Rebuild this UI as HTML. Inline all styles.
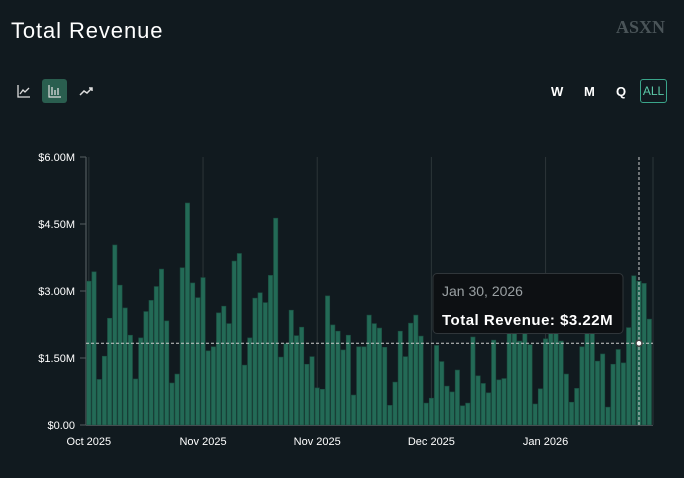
<!DOCTYPE html>
<html><head><meta charset="utf-8"><style>
body{margin:0;width:684px;height:478px;background:#111a1f;overflow:hidden;font-family:"Liberation Sans",sans-serif;color:#fff;position:relative}
.abs{position:absolute}
.btn{position:absolute;font-size:13px;font-weight:bold;color:#fff}
</style></head><body>
<div class="abs" style="left:11px;top:18px;font-size:22px;letter-spacing:0.9px">Total Revenue</div>
<div class="abs" style="left:616px;top:17px;font-family:'Liberation Serif',serif;font-size:18px;color:#4a5458;font-weight:bold">ASXN</div>
<svg class="abs" style="left:16px;top:83px" width="16" height="16"><path d="M2 2V14H14" stroke="#ddd" fill="none" stroke-width="1.3"/><path d="M4 11L7 7L9 9L13 5" stroke="#ddd" fill="none" stroke-width="1.3"/></svg>
<div class="abs" style="left:42px;top:79px;width:25px;height:24px;background:#2a5e4f;border-radius:3px"><svg width="25" height="24"><path d="M7 6V18H19" stroke="#ddd" fill="none" stroke-width="1.2"/><path d="M10 16V8M13 16V11M16 16V9" stroke="#ddd" stroke-width="1.3"/></svg></div>
<svg class="abs" style="left:79px;top:84px" width="16" height="14"><path d="M1 11L5 7L8 9L13 4M10 4H13V7" stroke="#ddd" fill="none" stroke-width="1.5"/></svg>
<div class="btn" style="left:551px;top:84px">W</div>
<div class="btn" style="left:584px;top:84px">M</div>
<div class="btn" style="left:616px;top:84px">Q</div>
<div class="btn" style="left:640px;top:79px;width:25px;height:22px;border:1px solid #3aa58a;border-radius:3px;color:#5cc9a8;font-weight:normal;font-size:12px;line-height:22px;text-align:center">ALL</div>
<svg id="chart" class="abs" style="left:0;top:0" width="684" height="478"></svg>
<script>
const values=[3.22,3.43,1.02,1.54,2.39,4.03,3.13,2.62,2.01,1.03,1.95,2.54,2.79,3.10,3.49,2.33,0.94,1.14,3.52,4.97,3.18,2.85,3.30,1.66,1.75,2.51,2.66,2.27,3.67,3.84,1.34,1.95,2.84,2.96,2.74,3.35,4.63,1.52,1.82,2.57,2.00,2.19,1.36,1.53,0.83,0.80,2.89,2.24,2.10,1.68,2.01,0.67,1.75,1.75,2.46,2.27,2.17,1.74,0.44,0.96,2.10,1.53,2.28,2.46,1.99,0.49,0.60,1.78,1.42,0.87,0.74,1.23,0.43,0.49,1.97,1.10,0.93,0.72,1.90,1.01,1.04,2.20,2.30,1.88,2.20,1.80,0.47,0.81,1.93,2.30,2.50,1.88,1.14,0.51,0.82,1.75,2.30,2.40,1.43,1.59,0.40,1.36,1.69,1.39,2.18,3.34,3.22,3.17,2.37];
const yTicks=[0,1.5,3,4.5,6];
const yTickLabels=["$0.00","$1.50M","$3.00M","$4.50M","$6.00M"];
const xTickIndex=[0,22,44,66,88];
const xTickLabels=["Oct 2025","Nov 2025","Nov 2025","Dec 2025","Jan 2026"];
const hoverIndex=106;
const hoverLevel=1.83;
const tooltipDate="Jan 30, 2026";
const tooltipValue="Total Revenue: $3.22M";

const svg=document.getElementById('chart');
const NS='http://www.w3.org/2000/svg';
const x0=86.7,pitch=5.19,bw=4.3,yBase=425,yTop=157,yMax=6;
const X=i=>x0+i*pitch;
const Y=v=>yBase-(v/yMax)*(yBase-yTop);
function mk(t,a){const e=document.createElementNS(NS,t);for(const k in a)e.setAttribute(k,a[k]);svg.appendChild(e);return e;}
xTickIndex.forEach((idx,k)=>{
  const gx=X(idx)+bw/2;
  const g=mk('line',{x1:gx,x2:gx,y1:yTop,y2:yBase,stroke:'#2c3538','stroke-width':1});
  
  
  const t=mk('text',{x:gx,y:445,'font-size':11,fill:'#fff','text-anchor':'middle'});
  t.textContent=xTickLabels[k];
  
  
});
const rl=mk('line',{x1:653,x2:653,y1:yTop,y2:yBase,stroke:'#2c3538'});


const ax=mk('line',{x1:86,x2:86,y1:yTop,y2:yBase,stroke:'#444c50','stroke-width':1.5});


yTicks.forEach((v,k)=>{
  const tk=mk('line',{x1:80,x2:86,y1:Y(v),y2:Y(v),stroke:'#555d60'});
  
  
  const t=mk('text',{x:75,y:Y(v)+4,'font-size':11,fill:'#fff','text-anchor':'end'});
  t.textContent=yTickLabels[k];
  
  
});
values.forEach((v,i)=>{
  const r=mk('rect',{x:X(i),y:Y(v),width:bw,height:yBase-Y(v),fill:'#236a56',stroke:'#1b4f41','stroke-width':0.6});
  
  
});
const xb=mk('line',{x1:86,x2:653,y1:yBase+0.5,y2:yBase+0.5,stroke:'#444c50'});


const hx=X(hoverIndex)+bw/2, hy=Y(hoverLevel);
const ch=mk('line',{x1:86,x2:653,y1:hy,y2:hy,stroke:'#ccc','stroke-dasharray':'3,2'});


const cv=mk('line',{x1:hx,x2:hx,y1:yTop,y2:yBase,stroke:'#ccc','stroke-dasharray':'3,2'});


const dot=mk('circle',{cx:hx,cy:hy,r:3,fill:'#fff',stroke:'#444',"stroke-width":1.5});


const tb=mk('rect',{x:433,y:273.5,width:190,height:60,rx:4,fill:'#0d1013',stroke:'#30363a'});


const td=mk('text',{x:442,y:296,'font-size':14,fill:'#9aa0a3'});
td.textContent=tooltipDate;


const tv=mk('text',{x:442,y:325,'font-size':15,fill:'#fff','font-weight':'bold','letter-spacing':0.5});
tv.textContent=tooltipValue;


</script>
</body></html>
